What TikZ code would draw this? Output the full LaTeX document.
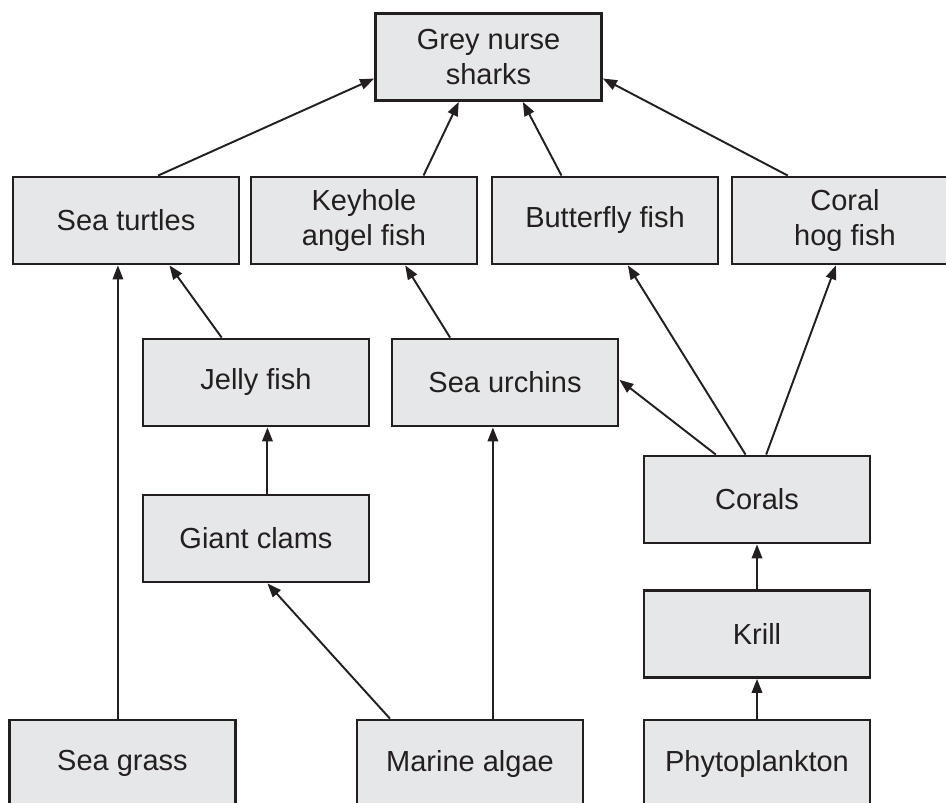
\documentclass[tikz,border=0pt]{standalone}
\usepackage{fontspec}
\setmainfont{Liberation Sans}
\usepackage{tikz}
\usetikzlibrary{arrows.meta,calc}
\usepackage{xcolor}
\definecolor{BoxGrey}{RGB}{230,231,232}
\definecolor{InkBlack}{RGB}{35,31,32}

\begin{document}
\begin{tikzpicture}[x=0.02cm,y=-0.02cm,
  organism/.style={draw=InkBlack,fill=BoxGrey,line width=1.6pt,
                   minimum width=4.52cm,minimum height=1.74cm,
                   align=center,text=InkBlack,inner sep=2pt,
                   font=\fontsize{16.5}{19.5}\selectfont},
  eats/.style={draw=InkBlack,line width=1.1pt,-{Triangle[length=2.8mm,width=2.1mm]}},
]
\path[use as bounding box,clip] (0,0) rectangle (946,803);
\node[organism] (shark) at (488.5,57) {Grey nurse\\sharks};
\node[organism] (turtles) at (126,220.5) {Sea turtles};
\node[organism] (keyhole) at (364,220.5) {Keyhole\\angel fish};
\node[organism] (butterfly) at (605,220.5) {Butterfly fish};
\node[organism] (hogfish) at (845,220.5) {Coral\\hog fish};
\node[organism] (jelly) at (256,382.5) {Jelly fish};
\node[organism] (urchins) at (505,382.5) {Sea urchins};
\node[organism] (corals) at (757,499.5) {Corals};
\node[organism] (clams) at (256,538.5) {Giant clams};
\node[organism] (krill) at (757,634) {Krill};
\node[organism] (seagrass) at (122.5,763.5) {Sea grass};
\node[organism] (algae) at (470,763.5) {Marine algae};
\node[organism] (phyto) at (757,763.5) {Phytoplankton};
% up to the sharks
\draw[eats] ($(turtles.north west)!.64!(turtles.north east)$) -- ($(shark.north west)!.74!(shark.south west)$);
\draw[eats] ($(keyhole.north west)!.76!(keyhole.north east)$) -- ($(shark.south west)!.37!(shark.south east)$);
\draw[eats] ($(butterfly.north west)!.31!(butterfly.north east)$) -- ($(shark.south west)!.65!(shark.south east)$);
\draw[eats] ($(hogfish.north west)!.25!(hogfish.north east)$) -- ($(shark.north east)!.74!(shark.south east)$);
% middle levels
\coordinate (grassup) at ($(seagrass.north west)!.48!(seagrass.north east)$);
\draw[eats] (grassup) -- (grassup |- turtles.south);
\draw[eats] ($(jelly.north west)!.35!(jelly.north east)$) -- ($(turtles.south west)!.69!(turtles.south east)$);
\coordinate (clamsup) at ($(clams.north west)!.55!(clams.north east)$);
\draw[eats] (clamsup) -- (clamsup |- jelly.south);
\draw[eats] ($(algae.north west)!.15!(algae.north east)$) -- ($(clams.south west)!.55!(clams.south east)$);
\coordinate (algaeup) at ($(algae.north west)!.60!(algae.north east)$);
\draw[eats] (algaeup) -- (algaeup |- urchins.south);
\draw[eats] ($(urchins.north west)!.26!(urchins.north east)$) -- ($(keyhole.south west)!.68!(keyhole.south east)$);
% from the corals
\draw[eats] ($(corals.north west)!.32!(corals.north east)$) -- ($(urchins.north east)!.47!(urchins.south east)$);
\draw[eats] ($(corals.north west)!.45!(corals.north east)$) -- ($(butterfly.south west)!.60!(butterfly.south east)$);
\draw[eats] ($(corals.north west)!.54!(corals.north east)$) -- ($(hogfish.south west)!.46!(hogfish.south east)$);
\draw[eats] (krill) -- (corals);
\draw[eats] (phyto) -- (krill);
\end{tikzpicture}
\end{document}
